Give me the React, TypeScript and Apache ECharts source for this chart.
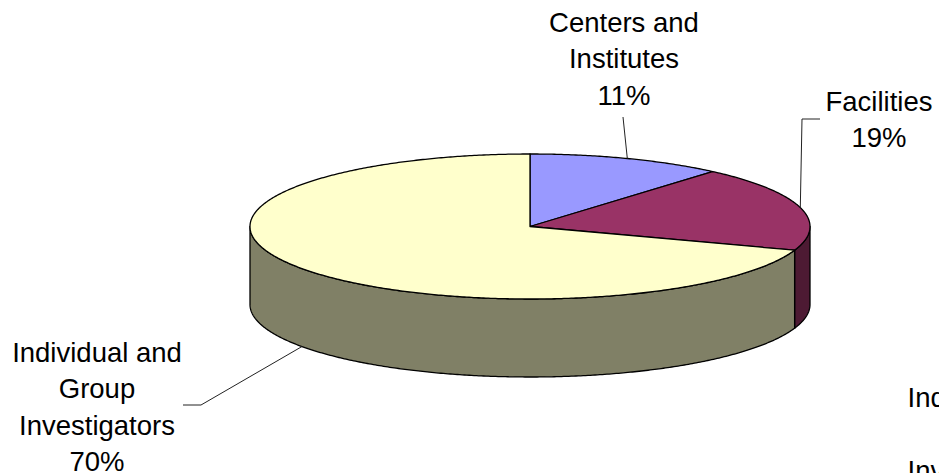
import React, { useEffect, useRef } from "react";
import * as echarts from "echarts";

const categories = ["Centers and\nInstitutes", "Facilities", "Individual and\nGroup\nInvestigators"];
const shareValues = [11.3, 19.0, 69.7];
const topColors = ["#9999FF", "#993366", "#FFFFCC"];
const wallColors = ["#4D4D80", "#4D1A33", "#808066"];
const strayLabels = ["Ind", "Inv"];

const CX = 530;
const CY = 226.5;
const RX = 280;
const RY = 72.5;
const DEPTH = 78;
const FONT = '27.5px "Liberation Sans", Arial, sans-serif';
const LINE_H = 36.5;

// label centre x, first line centre y, leader polyline from the label to the pie edge
const labelLayout = [
  { x: 624, y: 22, leader: [[623, 117]] },
  { x: 879, y: 101, leader: [[820, 119], [802, 119]] },
  { x: 97, y: 352, leader: [[183, 405], [201, 405]] },
];

const pt = (deg: number, dy = 0): number[] => {
  const a = (deg * Math.PI) / 180;
  return [CX + RX * Math.sin(a), CY - RY * Math.cos(a) + dy];
};

const arc = (from: number, to: number, dy = 0): number[][] => {
  const n = Math.max(2, Math.ceil(Math.abs(to - from) * 2));
  const out: number[][] = [];
  for (let i = 0; i <= n; i++) out.push(pt(from + ((to - from) * i) / n, dy));
  return out;
};

export default function App() {
  const ref = useRef<HTMLDivElement>(null);
  useEffect(() => {
    document.body.style.margin = "0";
    const chart = echarts.init(ref.current!, undefined, { renderer: "svg" });
    const total = shareValues.reduce((a, b) => a + b, 0);
    const renderItem = (params: any, api: any) => {
      const i = params.dataIndex;
      const before = shareValues.slice(0, i).reduce((a, b) => a + b, 0);
      const start = (before / total) * 360;
      const end = start + (api.value(0) / total) * 360;
      const mid = (start + end) / 2;
      const children: any[] = [];
      const wFrom = Math.max(start, 90);
      const wTo = Math.min(end, 270);
      if (wTo > wFrom) {
        children.push({
          type: "polygon",
          shape: { points: [...arc(wFrom, wTo), ...arc(wTo, wFrom, DEPTH)] },
          style: { fill: wallColors[i], stroke: "#000", lineWidth: 1.3, lineJoin: "round" },
        });
      }
      children.push({
        type: "polygon",
        shape: { points: [[CX, CY], ...arc(start, end)] },
        style: { fill: topColors[i], stroke: "#000", lineWidth: 1.3, lineJoin: "round" },
      });
      const layout = labelLayout[i];
      const anchor = pt(mid, mid > 90 && mid < 270 ? DEPTH : 0);
      children.push({
        type: "polyline",
        shape: { points: [...layout.leader, anchor] },
        style: { fill: "none", stroke: "#222", lineWidth: 1 },
      });
      const lines = [...categories[i].split("\n"), `${Math.round(api.value(0))}%`];
      lines.forEach((t, k) => {
        children.push({
          type: "text",
          style: {
            text: t,
            x: layout.x,
            y: layout.y + k * LINE_H,
            font: FONT,
            fill: "#000",
            align: "center",
            verticalAlign: "middle",
          },
        });
      });
      return { type: "group", children };
    };
    chart.setOption({
      animation: false,
      backgroundColor: "#fff",
      series: [
        {
          type: "custom",
          coordinateSystem: "none",
          renderItem,
          data: shareValues.map((v) => [v]),
          silent: true,
        },
      ],
      graphic: strayLabels.map((t, k) => ({
        type: "text",
        x: 907.5,
        y: 397 + k * 73,
        style: { text: t, font: FONT, fill: "#000", align: "left", verticalAlign: "middle" },
      })),
    });
    return () => chart.dispose();
  }, []);
  return (
    <div
      ref={ref}
      style={{ position: "fixed", left: 0, top: 0, width: 939, height: 473, overflow: "hidden", background: "#fff" }}
    />
  );
}
